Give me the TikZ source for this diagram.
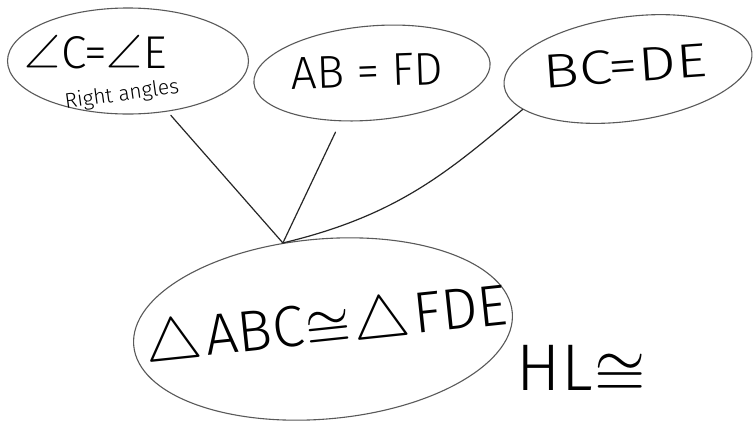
\documentclass[tikz,border=0pt]{standalone}
\usepackage{fontspec}
\setmainfont{Fira Sans}[UprightFont={* Light}]
\newfontfamily\lmm{Latin Modern Math}
\usetikzlibrary{shapes.geometric}
\newcommand{\ang}{{\lmm ∠}\kern1pt}
\newcommand{\congr}{\kern2pt{\lmm ≅}\kern3pt}
\newcommand{\tri}{{\lmm △}\kern4pt}
\begin{document}
\begin{tikzpicture}[x=1pt,y=-1pt,
  bubble/.style={ellipse, draw=black!65, line width=1.1pt, inner sep=0pt},
  link/.style={draw=black!85, line width=1.2pt, line cap=round},
  hand/.style={inner sep=0pt, text=black}]
\fill[white] (0,0) rectangle (753,424);
\useasboundingbox (0,0) rectangle (753,424);

% bubbles
\node[bubble, minimum width=241pt, minimum height=106pt] (c1) at (128,61) {};
\node[bubble, minimum width=237pt, minimum height=94pt, rotate=5] (c2) at (372,73) {};
\node[bubble, minimum width=250pt, minimum height=104pt, rotate=8] (c3) at (628,69) {};
\node[bubble, minimum width=380pt, minimum height=180pt, rotate=5] (c4) at (323,329) {};

% texts
\node[hand, font=\fontsize{46}{46}\selectfont] (t1) at (96,52) {\ang C=\ang E};
\node[hand, font=\fontsize{21}{21}\selectfont, rotate=8] (t1b) at (122,95) {Right angles};
\node[hand, font=\fontsize{46}{46}\selectfont, rotate=2] (t2) at (367,71) {AB = FD};
\node[hand, font=\fontsize{48}{48}\selectfont, rotate=4, xscale=1.25] (t3) at (625,66) {BC=DE};
\node[hand, font=\fontsize{58}{58}\selectfont, rotate=6] (t4) at (326,322) {\tri ABC\congr\tri FDE};
\node[hand, font=\fontsize{66}{66}\selectfont] (t5) at (583,368) {HL\congr};

% connectors
\coordinate (meet) at (c4.110);
\draw[link, shorten <=5pt] (c1.308) -- (meet);
\draw[link, shorten <=12pt] (c2.232) -- (meet);
\draw[link] (c3.193) .. controls (450,170) and (400,215) .. (meet);
\end{tikzpicture}
\end{document}
